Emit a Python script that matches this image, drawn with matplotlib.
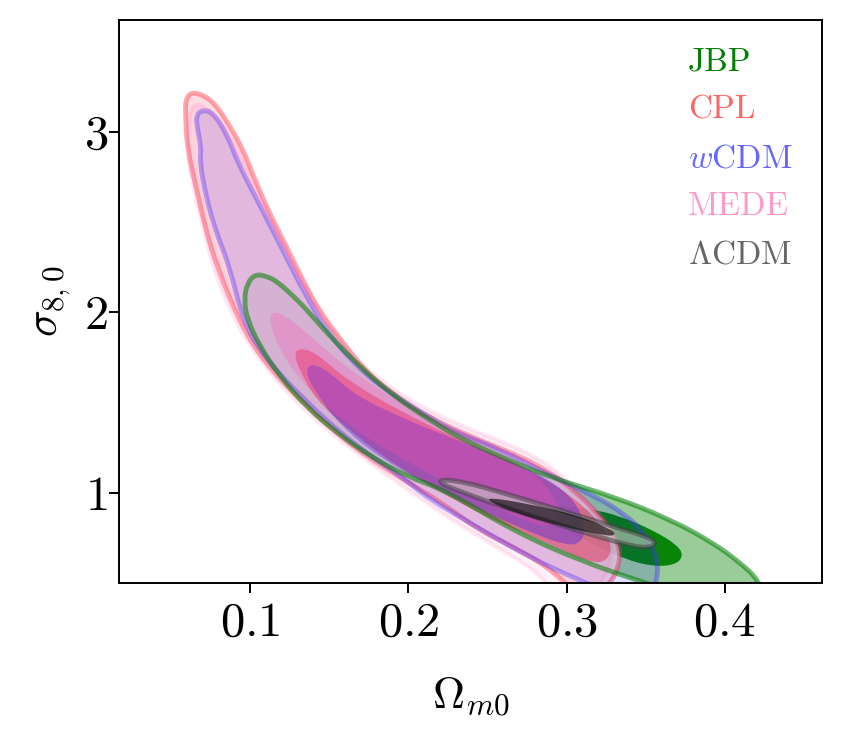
import numpy as np
import matplotlib
matplotlib.use("Agg")
import matplotlib.pyplot as plt
from matplotlib.path import Path
from matplotlib.patches import PathPatch
from matplotlib.colors import to_rgba

plt.rcParams['font.family'] = 'serif'
plt.rcParams['font.serif'] = ['cmr10']
plt.rcParams['mathtext.fontset'] = 'cm'
plt.rcParams['axes.formatter.use_mathtext'] = True

# contour outlines (Omega_m0, sigma_8,0)
jbp95_x = [0.103, 0.110, 0.117, 0.127, 0.134, 0.150, 0.169, 0.190, 0.212, 0.233, 0.258, 0.291, 0.329, 0.366, 0.393, 0.410, 0.421, 0.426, 0.385, 0.353, 0.309, 0.266, 0.224, 0.199, 0.176, 0.155, 0.136, 0.119, 0.106, 0.098, 0.096, 0.098]
jbp95_y = [2.21, 2.20, 2.17, 2.09, 2.03, 1.87, 1.70, 1.54, 1.41, 1.30, 1.20, 1.08, 0.98, 0.85, 0.72, 0.61, 0.52, 0.40, 0.40, 0.49, 0.62, 0.79, 1.01, 1.09, 1.20, 1.33, 1.47, 1.64, 1.81, 1.96, 2.07, 2.16]
jbp68_x = [0.293, 0.315, 0.334, 0.355, 0.370, 0.374, 0.369, 0.355, 0.337, 0.315, 0.296, 0.288]
jbp68_y = [0.93, 0.91, 0.87, 0.79, 0.71, 0.65, 0.60, 0.59, 0.63, 0.72, 0.82, 0.89]

cpl95_x = [0.063, 0.071, 0.078, 0.085, 0.095, 0.103, 0.112, 0.123, 0.133, 0.144, 0.157, 0.172, 0.191, 0.214, 0.245, 0.271, 0.290, 0.305, 0.318, 0.329, 0.334, 0.333, 0.328, 0.318, 0.305, 0.288, 0.264, 0.245, 0.220, 0.197, 0.165, 0.133, 0.108, 0.093, 0.079, 0.072, 0.066, 0.060, 0.059, 0.059]
cpl95_y = [3.22, 3.20, 3.15, 3.06, 2.91, 2.73, 2.55, 2.36, 2.18, 2.00, 1.85, 1.68, 1.54, 1.41, 1.29, 1.20, 1.11, 1.01, 0.90, 0.79, 0.68, 0.59, 0.50, 0.43, 0.45, 0.59, 0.71, 0.79, 0.95, 1.07, 1.25, 1.50, 1.73, 1.95, 2.25, 2.45, 2.68, 2.91, 3.09, 3.18]
cpl68_x = [0.130, 0.141, 0.160, 0.197, 0.233, 0.271, 0.299, 0.320, 0.329, 0.326, 0.315, 0.283, 0.245, 0.195, 0.163, 0.141, 0.131, 0.128]
cpl68_y = [1.80, 1.78, 1.63, 1.44, 1.29, 1.15, 1.01, 0.85, 0.71, 0.62, 0.61, 0.74, 0.88, 1.13, 1.34, 1.52, 1.68, 1.76]

wcdm95_x = [0.069, 0.076, 0.085, 0.092, 0.102, 0.112, 0.123, 0.134, 0.148, 0.165, 0.182, 0.207, 0.228, 0.258, 0.291, 0.318, 0.337, 0.350, 0.357, 0.358, 0.354, 0.340, 0.309, 0.277, 0.245, 0.212, 0.197, 0.165, 0.133, 0.108, 0.095, 0.087, 0.078, 0.072, 0.068, 0.069, 0.066, 0.066]
wcdm95_y = [3.12, 3.11, 2.99, 2.83, 2.66, 2.49, 2.30, 2.11, 1.90, 1.72, 1.59, 1.45, 1.34, 1.24, 1.09, 0.98, 0.88, 0.77, 0.65, 0.54, 0.45, 0.40, 0.51, 0.64, 0.80, 0.97, 1.08, 1.27, 1.52, 1.76, 1.96, 2.25, 2.45, 2.64, 2.83, 2.91, 3.04, 3.09]
wcdm68_x = [0.138, 0.150, 0.166, 0.197, 0.228, 0.258, 0.288, 0.305, 0.312, 0.310, 0.301, 0.266, 0.224, 0.182, 0.157, 0.141, 0.135]
wcdm68_y = [1.72, 1.67, 1.54, 1.41, 1.30, 1.20, 1.08, 0.96, 0.82, 0.73, 0.70, 0.82, 0.99, 1.19, 1.37, 1.56, 1.66]

mede95_x = [0.065, 0.073, 0.084, 0.095, 0.103, 0.114, 0.125, 0.136, 0.148, 0.165, 0.184, 0.207, 0.233, 0.266, 0.288, 0.305, 0.321, 0.329, 0.328, 0.321, 0.312, 0.293, 0.283, 0.245, 0.207, 0.165, 0.131, 0.107, 0.092, 0.078, 0.071, 0.064, 0.060, 0.061]
mede95_y = [3.16, 3.13, 3.02, 2.85, 2.68, 2.50, 2.31, 2.12, 1.94, 1.75, 1.61, 1.48, 1.37, 1.26, 1.16, 1.03, 0.88, 0.74, 0.60, 0.49, 0.40, 0.40, 0.56, 0.75, 0.97, 1.23, 1.48, 1.72, 1.92, 2.20, 2.44, 2.68, 2.90, 3.09]
mede68_x = [0.114, 0.125, 0.150, 0.176, 0.207, 0.245, 0.277, 0.293, 0.295, 0.286, 0.252, 0.207, 0.163, 0.131, 0.117, 0.112]
mede68_y = [2.01, 1.97, 1.77, 1.60, 1.44, 1.27, 1.13, 0.98, 0.85, 0.80, 0.93, 1.13, 1.36, 1.62, 1.82, 1.95]

lcdm95_x = [0.220, 0.236, 0.258, 0.288, 0.329, 0.350, 0.357, 0.353, 0.340, 0.298, 0.256, 0.229, 0.221]
lcdm95_y = [1.075, 1.058, 1.003, 0.925, 0.814, 0.759, 0.726, 0.693, 0.704, 0.814, 0.931, 1.019, 1.047]
lcdm68_x = [0.250, 0.277, 0.309, 0.329, 0.331, 0.326, 0.298, 0.266, 0.252]
lcdm68_y = [0.975, 0.936, 0.870, 0.792, 0.765, 0.759, 0.809, 0.892, 0.947]

labels = ['JBP', 'CPL', r'$w$CDM', 'MEDE', r'$\Lambda$CDM']
label_colors = ['#008000', '#ff6666', '#6666ff', '#ff99cc', '#666666']


def smooth_path(xs, ys):
    pts = np.column_stack([xs, ys])
    mids = 0.5 * (pts + np.roll(pts, -1, axis=0))
    verts = [mids[-1]]
    codes = [Path.MOVETO]
    for p, m in zip(pts, mids):
        verts += [p, m]
        codes += [Path.CURVE3, Path.CURVE3]
    verts.append(mids[-1])
    codes.append(Path.CLOSEPOLY)
    return Path(verts, codes)


def fill(ax, xs, ys, fc, fa):
    ax.add_patch(PathPatch(smooth_path(xs, ys), facecolor=to_rgba(fc, fa),
                           edgecolor='none'))


def edge(ax, xs, ys, ec, ea, lw):
    ax.add_patch(PathPatch(smooth_path(xs, ys), facecolor='none',
                           edgecolor=to_rgba(ec, ea), lw=lw, joinstyle='round'))


fig = plt.figure(figsize=(8.42, 7.41), dpi=100)
ax = fig.add_axes([119 / 842, 1 - 583 / 741, 703 / 842, 563 / 741])

# JBP underneath
fill(ax, jbp95_x, jbp95_y, '#008000', 0.4)
fill(ax, jbp68_x, jbp68_y, '#008000', 0.95)

# CPL
fill(ax, cpl95_x, cpl95_y, '#ffd7dc', 0.85)
edge(ax, cpl95_x, cpl95_y, '#ff3c4c', 0.45, 3.5)
fill(ax, cpl68_x, cpl68_y, '#ff0000', 0.38)

# wCDM
fill(ax, wcdm95_x, wcdm95_y, '#0000ff', 0.12)
edge(ax, wcdm95_x, wcdm95_y, '#4433ff', 0.4, 3.5)
fill(ax, wcdm68_x, wcdm68_y, '#0000ff', 0.3)

# MEDE
fill(ax, mede95_x, mede95_y, '#ff69b4', 0.1)
edge(ax, mede95_x, mede95_y, '#ff69b4', 0.15, 3.0)
fill(ax, mede68_x, mede68_y, '#ff50b4', 0.28)

# JBP outline on top of the others
edge(ax, jbp95_x, jbp95_y, '#008000', 0.55, 3.5)

# LCDM
fill(ax, lcdm95_x, lcdm95_y, '#c8c8c8', 0.6)
edge(ax, lcdm95_x, lcdm95_y, '#444444', 0.55, 3.5)
fill(ax, lcdm68_x, lcdm68_y, '#000000', 0.6)

ax.set_xlim(0.0169, 0.4616)
ax.set_ylim(0.499, 3.619)
ax.set_xticks([0.1, 0.2, 0.3, 0.4])
ax.set_yticks([1, 2, 3])
ax.tick_params(labelsize=35, length=7, width=1.4)
ax.tick_params(axis='x', pad=6)
ax.tick_params(axis='y', pad=1)
for s in ax.spines.values():
    s.set_linewidth(1.4)

ax.set_xlabel(r'$\Omega_{m0}$', fontsize=32, labelpad=21)
ax.set_ylabel(r'$\sigma_{8,0}$', fontsize=32, labelpad=8)

for i, (lab, col) in enumerate(zip(labels, label_colors)):
    ax.text(0.809, 0.925 - i * 0.0855, lab, color=col, fontsize=24,
            transform=ax.transAxes, ha='left', va='center')

fig.savefig('out.png', dpi=100)
